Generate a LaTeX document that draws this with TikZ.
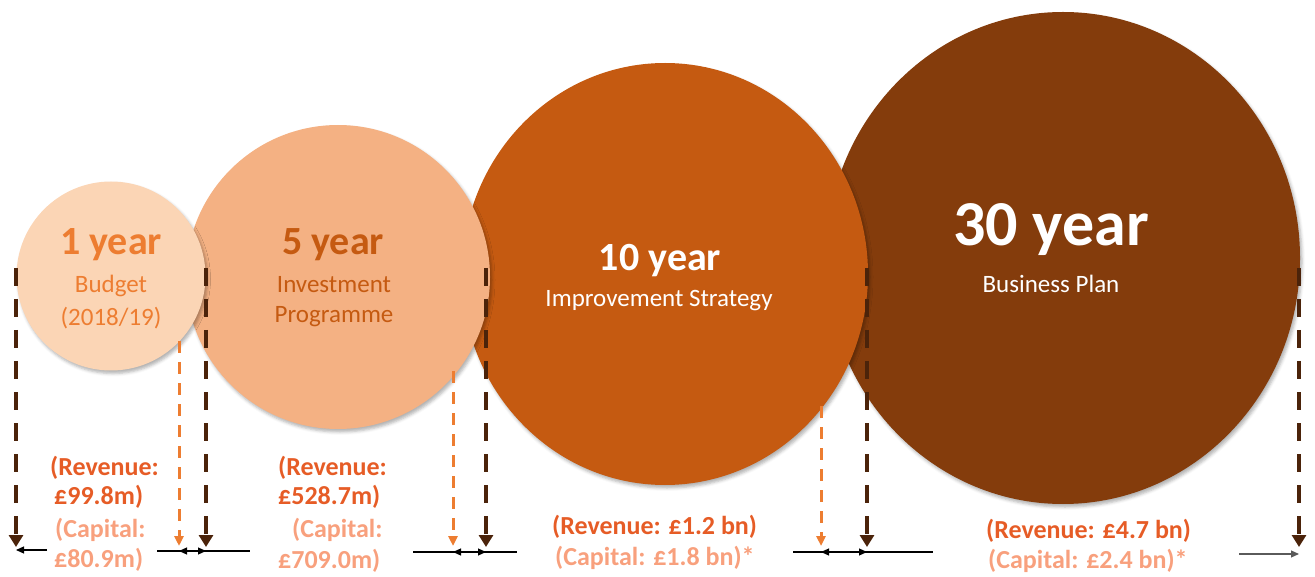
\documentclass[tikz,border=0pt]{standalone}
\usepackage{fontspec}
\setmainfont{Carlito}
\usetikzlibrary{shapes.geometric,shadows.blur,arrows.meta}
\definecolor{cA}{RGB}{251,213,181}
\definecolor{cB}{RGB}{244,177,131}
\definecolor{cC}{RGB}{197,90,17}
\definecolor{cD}{RGB}{132,60,12}
\definecolor{orA}{RGB}{237,125,49}
\definecolor{revc}{RGB}{230,92,38}
\definecolor{capc}{RGB}{248,160,125}
\definecolor{darkdash}{RGB}{75,35,10}
\definecolor{grayline}{RGB}{90,90,90}
\tikzset{
  bubble/.style={ellipse, inner sep=0pt, draw=none,
    blur shadow={shadow xshift=2pt, shadow yshift=-3pt, shadow opacity=30, shadow blur radius=3pt}},
  bigyear/.style={font=\fontsize{40}{40}\selectfont\bfseries, inner sep=0pt},
  subtxt/.style={font=\fontsize{25}{25}\selectfont, inner sep=0pt},
  revtxt/.style={font=\fontsize{26}{26}\selectfont\bfseries, text=revc, inner sep=0pt, anchor=west},
  captxt/.style={font=\fontsize{26}{26}\selectfont\bfseries, text=capc, inner sep=0pt, anchor=west},
  darkarrow/.style={draw=darkdash, line width=4.4pt, dash pattern=on 18pt off 13pt,
    -{Triangle[width=14pt,length=12pt]}},
  orarrow/.style={draw=orA, line width=3pt, dash pattern=on 12pt off 9pt,
    -{Triangle[width=9pt,length=10pt]}},
  dimline/.style={draw=black, line width=1.1pt},
  dimarrow/.style={draw=black, line width=1.1pt, {Triangle[width=7pt,length=8pt]}-{Triangle[width=7pt,length=8pt]}},
}
\begin{document}
\begin{tikzpicture}[x=1pt,y=-1pt]
\useasboundingbox (0,0) rectangle (1315,577);
% bubbles, back to front
\node[bubble, fill=cD, minimum width=474pt, minimum height=492pt] (b4) at (1063,258) {};
\node[bubble, fill=cC, minimum width=406pt, minimum height=422pt] (b3) at (665,274) {};
\node[bubble, fill=cB, minimum width=304pt, minimum height=304pt] (b2) at (338,277) {};
\node[bubble, fill=cA, minimum width=189pt, minimum height=189pt] (b1) at (111,276) {};
% bubble texts
\node[bigyear, text=orA] (t1) at (111,245) {1 year};
\node[subtxt, text=orA] (t1a) at (111,286) {Budget};
\node[subtxt, text=orA] (t1b) at (111,318) {(2018/19)};
\node[bigyear, text=cC] (t2) at (333,245) {5 year};
\node[subtxt, text=cC] (t2a) at (334,285) {Investment};
\node[subtxt, text=cC] (t2b) at (334,317) {Programme};
\node[bigyear, text=white] (t3) at (660,261) {10 year};
\node[subtxt, text=white] (t3a) at (659,301) {Improvement Strategy};
\node[font=\fontsize{64}{64}\selectfont\bfseries, text=white, inner sep=0pt] (t4) at (1051,230) {30 year};
\node[subtxt, text=white] (t4a) at (1051,284) {Business Plan};
% coordinates for dashed markers
\foreach \n/\x in {d0/16, d1/206, d2/486, d3/867, d4/1299}{
  \coordinate (\n top) at (\x,268);
  \coordinate (\n bot) at (\x,547);
}
\coordinate (o1top) at (179,341);
\coordinate (o1bot) at (179,546);
\coordinate (o2top) at (453,371);
\coordinate (o2bot) at (453,546);
\coordinate (o3top) at (821,406);
\coordinate (o3bot) at (821,546);
\foreach \n in {d0,d1,d2,d3,d4}{ \draw[darkarrow] (\n top) -- (\n bot); }
\foreach \n in {o1,o2,o3}{ \draw[orarrow] (\n top) -- (\n bot); }
% dimension lines
\coordinate (h0s) at (47,550);
\coordinate (h0e) at (16,550);
\draw[dimline, -{Triangle[width=7pt,length=8pt]}] (h0s) -- (h0e);
\coordinate (h1s) at (157,551); \coordinate (h1e) at (250,551);
\coordinate (h1a) at (179,551); \coordinate (h1b) at (206,551);
\draw[dimline] (h1s) -- (h1e);
\draw[dimarrow] (h1a) -- (h1b);
\coordinate (h2s) at (413,552); \coordinate (h2e) at (517,552);
\coordinate (h2a) at (453,552); \coordinate (h2b) at (486,552);
\draw[dimline] (h2s) -- (h2e);
\draw[dimarrow] (h2a) -- (h2b);
\coordinate (h3s) at (793,552); \coordinate (h3e) at (933,552);
\coordinate (h3a) at (821,552); \coordinate (h3b) at (867,552);
\draw[dimline] (h3s) -- (h3e);
\draw[dimarrow] (h3a) -- (h3b);
\coordinate (h4s) at (1239,554); \coordinate (h4e) at (1299,554);
\draw[dimline, draw=grayline, -{Triangle[width=7pt,length=8pt]}] (h4s) -- (h4e);
% amounts
\node[revtxt] (r1a) at (50,468) {(Revenue:};
\node[revtxt] (r1b) at (54,497) {£99.8m)};
\node[captxt] (c1a) at (55,530) {(Capital:};
\node[captxt] (c1b) at (54,560) {£80.9m)};
\node[revtxt] (r2a) at (278,468) {(Revenue:};
\node[revtxt] (r2b) at (278,497) {£528.7m)};
\node[captxt] (c2a) at (292,530) {(Capital:};
\node[captxt] (c2b) at (278,561) {£709.0m)};
\node[revtxt] (r3) at (552,527) {(Revenue: £1.2 bn)};
\node[captxt] (c3) at (555,558) {(Capital: £1.8 bn)*};
\node[revtxt] (r4) at (986,531) {(Revenue: £4.7 bn)};
\node[captxt] (c4) at (988,561) {(Capital: £2.4 bn)*};
\end{tikzpicture}
\end{document}
